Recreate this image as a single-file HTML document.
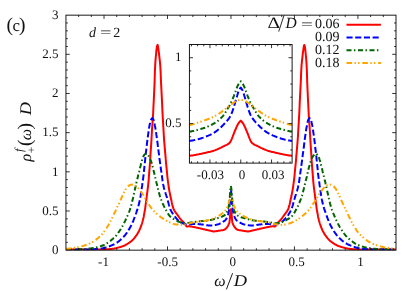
<!DOCTYPE html>
<html><head><meta charset="utf-8"><title>chart</title>
<style>
html,body{margin:0;padding:0;background:#fff;}
body{width:415px;height:291px;overflow:hidden;}
svg{display:block;will-change:transform;}
text{font-family:"Liberation Serif",serif;fill:#111;text-rendering:geometricPrecision;}
.t{font-size:13px;}
.l{font-size:14px;}
.b{font-size:16px;}
.i{font-style:italic;}
</style></head><body>
<svg width="415" height="291" viewBox="0 0 415 291">
<rect x="0" y="0" width="415" height="291" fill="#fff"/>

<clipPath id="cm"><rect x="65.95" y="15.15" width="330.05" height="235.20"/></clipPath>
<g fill="none" stroke-width="2" stroke-linejoin="round" clip-path="url(#cm)">
<path d="M65.9,249.6 L66.3,249.6 L66.7,249.6 L67.1,249.6 L67.4,249.6 L67.8,249.6 L68.2,249.6 L68.6,249.6 L68.9,249.6 L69.3,249.6 L69.7,249.6 L70.1,249.6 L70.4,249.6 L70.8,249.6 L71.2,249.6 L71.6,249.6 L71.9,249.6 L72.3,249.6 L72.7,249.6 L73.1,249.6 L73.4,249.6 L73.8,249.6 L74.2,249.6 L74.6,249.6 L74.9,249.6 L75.3,249.6 L75.7,249.6 L76.1,249.6 L76.4,249.6 L76.8,249.6 L77.2,249.6 L77.6,249.6 L77.9,249.6 L78.3,249.6 L78.7,249.6 L79.1,249.6 L79.4,249.6 L79.8,249.6 L80.2,249.6 L80.6,249.6 L81.0,249.6 L81.3,249.6 L81.7,249.6 L82.1,249.6 L82.5,249.6 L82.8,249.6 L83.2,249.6 L83.6,249.6 L84.0,249.6 L84.3,249.6 L84.7,249.6 L85.1,249.6 L85.5,249.6 L85.8,249.6 L86.2,249.6 L86.6,249.6 L87.0,249.6 L87.3,249.6 L87.7,249.6 L88.1,249.6 L88.5,249.6 L88.8,249.6 L89.2,249.6 L89.6,249.6 L90.0,249.6 L90.3,249.6 L90.7,249.6 L91.1,249.5 L91.5,249.5 L91.8,249.5 L92.2,249.5 L92.6,249.5 L93.0,249.5 L93.3,249.5 L93.7,249.5 L94.1,249.5 L94.5,249.5 L94.8,249.5 L95.2,249.5 L95.6,249.5 L96.0,249.5 L96.3,249.5 L96.7,249.5 L97.1,249.5 L97.5,249.5 L97.9,249.5 L98.2,249.5 L98.6,249.5 L99.0,249.5 L99.4,249.5 L99.7,249.5 L100.1,249.5 L100.5,249.5 L100.9,249.5 L101.2,249.5 L101.6,249.5 L102.0,249.5 L102.4,249.5 L102.7,249.5 L103.1,249.4 L103.5,249.4 L103.9,249.4 L104.2,249.4 L104.6,249.4 L105.0,249.4 L105.4,249.4 L105.7,249.3 L106.1,249.3 L106.5,249.3 L106.9,249.3 L107.2,249.3 L107.6,249.2 L108.0,249.2 L108.4,249.2 L108.7,249.2 L109.1,249.2 L109.5,249.1 L109.9,249.1 L110.2,249.1 L110.6,249.1 L111.0,249.0 L111.4,249.0 L111.7,248.9 L112.1,248.9 L112.5,248.8 L112.9,248.8 L113.2,248.7 L113.6,248.7 L114.0,248.6 L114.4,248.5 L114.8,248.4 L115.1,248.4 L115.5,248.3 L115.9,248.2 L116.3,248.1 L116.6,248.0 L117.0,247.9 L117.4,247.8 L117.8,247.7 L118.1,247.6 L118.5,247.5 L118.9,247.4 L119.3,247.3 L119.6,247.2 L120.0,247.1 L120.4,247.0 L120.8,246.9 L121.1,246.8 L121.5,246.7 L121.9,246.5 L122.3,246.4 L122.6,246.3 L123.0,246.1 L123.4,246.0 L123.8,245.8 L124.1,245.7 L124.5,245.5 L124.9,245.3 L125.3,245.1 L125.6,244.9 L126.0,244.7 L126.4,244.5 L126.8,244.3 L127.1,244.1 L127.5,243.8 L127.9,243.6 L128.3,243.4 L128.6,243.1 L129.0,242.8 L129.4,242.6 L129.8,242.3 L130.1,242.0 L130.5,241.8 L130.9,241.5 L131.3,241.2 L131.7,240.9 L132.0,240.5 L132.4,240.2 L132.8,239.8 L133.2,239.4 L133.5,239.0 L133.9,238.6 L134.3,238.2 L134.7,237.7 L135.0,237.2 L135.4,236.8 L135.8,236.2 L136.2,235.7 L136.5,235.2 L136.9,234.6 L137.3,234.0 L137.7,233.4 L138.0,232.8 L138.4,232.1 L138.8,231.4 L139.2,230.7 L139.5,229.9 L139.9,229.0 L140.3,228.1 L140.7,227.2 L141.0,226.2 L141.4,225.1 L141.8,224.0 L142.2,222.8 L142.5,221.5 L142.9,220.2 L143.3,218.6 L143.7,216.9 L144.0,214.9 L144.4,212.8 L144.8,210.6 L145.2,208.3 L145.5,205.6 L145.9,202.8 L146.3,199.9 L146.7,196.9 L147.0,194.1 L147.4,191.3 L147.8,188.2 L148.2,184.7 L148.6,180.8 L148.9,176.4 L149.3,171.6 L149.7,166.6 L150.1,161.4 L150.4,155.9 L150.8,149.8 L151.2,143.6 L151.6,137.3 L151.9,131.4 L152.3,125.8 L152.7,120.2 L153.1,114.2 L153.4,107.5 L153.8,99.8 L154.2,91.3 L154.6,82.1 L154.9,71.2 L155.3,63.1 L155.7,57.8 L156.1,54.0 L156.4,50.5 L156.8,47.5 L157.2,45.5 L157.6,44.9 L157.9,46.0 L158.3,48.3 L158.7,51.3 L159.1,54.4 L159.4,57.3 L159.8,60.7 L160.2,64.9 L160.6,71.3 L160.9,79.5 L161.3,87.5 L161.7,95.4 L162.1,103.4 L162.4,110.9 L162.8,118.1 L163.2,125.0 L163.6,131.5 L163.9,137.2 L164.3,142.4 L164.7,147.2 L165.1,151.8 L165.5,156.1 L165.8,160.3 L166.2,164.4 L166.6,168.4 L167.0,172.3 L167.3,176.0 L167.7,179.5 L168.1,182.6 L168.5,185.4 L168.8,187.8 L169.2,190.0 L169.6,192.1 L170.0,194.0 L170.3,195.8 L170.7,197.5 L171.1,199.3 L171.5,201.0 L171.8,202.7 L172.2,204.4 L172.6,205.9 L173.0,207.2 L173.3,208.3 L173.7,209.3 L174.1,210.0 L174.5,210.7 L174.8,211.3 L175.2,211.9 L175.6,212.4 L176.0,212.9 L176.3,213.4 L176.7,213.9 L177.1,214.4 L177.5,214.9 L177.8,215.4 L178.2,215.9 L178.6,216.5 L179.0,217.0 L179.3,217.5 L179.7,218.0 L180.1,218.6 L180.5,219.0 L180.8,219.5 L181.2,219.9 L181.6,220.4 L182.0,220.7 L182.4,221.1 L182.7,221.5 L183.1,221.8 L183.5,222.2 L183.9,222.6 L184.2,223.0 L184.6,223.4 L185.0,224.0 L185.4,224.6 L185.7,225.3 L186.1,225.9 L186.5,226.3 L186.9,226.5 L187.2,226.5 L187.6,226.4 L188.0,226.4 L188.4,226.3 L188.7,226.3 L189.1,226.3 L189.5,226.3 L189.9,226.4 L190.2,226.4 L190.6,226.4 L191.0,226.5 L191.4,226.6 L191.7,226.6 L192.1,226.7 L192.5,226.8 L192.9,226.9 L193.2,226.9 L193.6,227.0 L194.0,227.1 L194.4,227.1 L194.7,227.2 L195.1,227.3 L195.5,227.4 L195.9,227.4 L196.2,227.5 L196.6,227.6 L197.0,227.7 L197.4,227.8 L197.7,227.9 L198.1,227.9 L198.5,228.0 L198.9,228.1 L199.3,228.2 L199.6,228.3 L200.0,228.4 L200.4,228.5 L200.8,228.6 L201.1,228.6 L201.5,228.7 L201.9,228.8 L202.3,228.9 L202.6,229.0 L203.0,229.1 L203.4,229.2 L203.8,229.3 L204.1,229.3 L204.5,229.4 L204.9,229.5 L205.3,229.6 L205.6,229.7 L206.0,229.8 L206.4,229.9 L206.8,230.0 L207.1,230.1 L207.5,230.1 L207.9,230.2 L208.3,230.3 L208.6,230.4 L209.0,230.5 L209.4,230.6 L209.8,230.6 L210.1,230.7 L210.5,230.8 L210.9,230.9 L211.3,231.0 L211.6,231.1 L212.0,231.2 L212.4,231.3 L212.8,231.3 L213.1,231.4 L213.5,231.4 L213.9,231.4 L214.3,231.4 L214.6,231.4 L215.0,231.3 L215.4,231.3 L215.8,231.2 L216.2,231.2 L216.5,231.1 L216.9,231.1 L217.3,231.0 L217.7,230.9 L218.0,230.9 L218.4,230.8 L218.8,230.7 L219.2,230.7 L219.5,230.6 L219.9,230.5 L220.3,230.5 L220.7,230.4 L221.0,230.4 L221.4,230.3 L221.8,230.3 L222.2,230.2 L222.5,230.2 L222.9,230.1 L223.3,230.0 L223.5,230.0 L223.7,229.9 L223.9,229.9 L224.1,229.8 L224.2,229.7 L224.4,229.7 L224.6,229.6 L224.8,229.5 L225.0,229.4 L225.2,229.2 L225.4,229.0 L225.6,228.8 L225.8,228.7 L226.0,228.5 L226.2,228.3 L226.4,228.1 L226.6,227.8 L226.8,227.6 L226.9,227.4 L227.1,227.2 L227.3,226.9 L227.5,226.6 L227.7,226.3 L227.9,226.0 L228.1,225.6 L228.3,225.2 L228.5,224.7 L228.7,224.3 L228.9,223.8 L229.1,223.4 L229.3,222.9 L229.5,222.2 L229.6,221.1 L229.8,219.1 L230.0,216.6 L230.2,214.4 L230.4,212.2 L230.6,210.5 L230.8,209.3 L231.2,210.5 L231.4,212.2 L231.6,214.4 L231.8,216.6 L232.0,219.1 L232.2,221.1 L232.3,222.2 L232.5,222.9 L232.7,223.4 L232.9,223.8 L233.1,224.3 L233.3,224.7 L233.5,225.2 L233.7,225.6 L233.9,226.0 L234.1,226.3 L234.3,226.6 L234.5,226.9 L234.7,227.2 L234.9,227.4 L235.0,227.6 L235.2,227.8 L235.4,228.1 L235.6,228.3 L235.8,228.5 L236.0,228.7 L236.2,228.8 L236.4,229.0 L236.6,229.2 L236.8,229.4 L237.0,229.5 L237.2,229.6 L237.4,229.7 L237.6,229.7 L237.7,229.8 L237.9,229.9 L238.1,229.9 L238.3,230.0 L238.5,230.0 L238.9,230.1 L239.3,230.2 L239.6,230.2 L240.0,230.3 L240.4,230.3 L240.8,230.4 L241.1,230.4 L241.5,230.5 L241.9,230.5 L242.3,230.6 L242.6,230.7 L243.0,230.7 L243.4,230.8 L243.8,230.9 L244.1,230.9 L244.5,231.0 L244.9,231.1 L245.3,231.1 L245.6,231.2 L246.0,231.2 L246.4,231.3 L246.8,231.3 L247.2,231.4 L247.5,231.4 L247.9,231.4 L248.3,231.4 L248.7,231.4 L249.0,231.3 L249.4,231.3 L249.8,231.2 L250.2,231.1 L250.5,231.0 L250.9,230.9 L251.3,230.8 L251.7,230.7 L252.0,230.6 L252.4,230.6 L252.8,230.5 L253.2,230.4 L253.5,230.3 L253.9,230.2 L254.3,230.1 L254.7,230.1 L255.0,230.0 L255.4,229.9 L255.8,229.8 L256.2,229.7 L256.5,229.6 L256.9,229.5 L257.3,229.4 L257.7,229.3 L258.0,229.3 L258.4,229.2 L258.8,229.1 L259.2,229.0 L259.5,228.9 L259.9,228.8 L260.3,228.7 L260.7,228.6 L261.0,228.6 L261.4,228.5 L261.8,228.4 L262.2,228.3 L262.5,228.2 L262.9,228.1 L263.3,228.0 L263.7,227.9 L264.1,227.9 L264.4,227.8 L264.8,227.7 L265.2,227.6 L265.6,227.5 L265.9,227.4 L266.3,227.4 L266.7,227.3 L267.1,227.2 L267.4,227.1 L267.8,227.1 L268.2,227.0 L268.6,226.9 L268.9,226.9 L269.3,226.8 L269.7,226.7 L270.1,226.6 L270.4,226.6 L270.8,226.5 L271.2,226.4 L271.6,226.4 L271.9,226.4 L272.3,226.3 L272.7,226.3 L273.1,226.3 L273.4,226.3 L273.8,226.4 L274.2,226.4 L274.6,226.5 L274.9,226.5 L275.3,226.3 L275.7,225.9 L276.1,225.3 L276.4,224.6 L276.8,224.0 L277.2,223.4 L277.6,223.0 L277.9,222.6 L278.3,222.2 L278.7,221.8 L279.1,221.5 L279.4,221.1 L279.8,220.7 L280.2,220.4 L280.6,219.9 L281.0,219.5 L281.3,219.0 L281.7,218.6 L282.1,218.0 L282.5,217.5 L282.8,217.0 L283.2,216.5 L283.6,215.9 L284.0,215.4 L284.3,214.9 L284.7,214.4 L285.1,213.9 L285.5,213.4 L285.8,212.9 L286.2,212.4 L286.6,211.9 L287.0,211.3 L287.3,210.7 L287.7,210.0 L288.1,209.3 L288.5,208.3 L288.8,207.2 L289.2,205.9 L289.6,204.4 L290.0,202.7 L290.3,201.0 L290.7,199.3 L291.1,197.5 L291.5,195.8 L291.8,194.0 L292.2,192.1 L292.6,190.0 L293.0,187.8 L293.3,185.4 L293.7,182.6 L294.1,179.5 L294.5,176.0 L294.8,172.3 L295.2,168.4 L295.6,164.4 L296.0,160.3 L296.3,156.1 L296.7,151.8 L297.1,147.2 L297.5,142.4 L297.9,137.2 L298.2,131.5 L298.6,125.0 L299.0,118.1 L299.4,110.9 L299.7,103.4 L300.1,95.4 L300.5,87.5 L300.9,79.5 L301.2,71.3 L301.6,64.9 L302.0,60.7 L302.4,57.3 L302.7,54.4 L303.1,51.3 L303.5,48.3 L303.9,46.0 L304.2,44.9 L304.6,45.5 L305.0,47.5 L305.4,50.5 L305.7,54.0 L306.1,57.8 L306.5,63.1 L306.9,71.2 L307.2,82.1 L307.6,91.3 L308.0,99.8 L308.4,107.5 L308.7,114.2 L309.1,120.2 L309.5,125.8 L309.9,131.4 L310.2,137.3 L310.6,143.6 L311.0,149.8 L311.4,155.9 L311.7,161.4 L312.1,166.6 L312.5,171.6 L312.9,176.4 L313.2,180.8 L313.6,184.7 L314.0,188.2 L314.4,191.3 L314.8,194.1 L315.1,196.9 L315.5,199.9 L315.9,202.8 L316.3,205.6 L316.6,208.3 L317.0,210.6 L317.4,212.8 L317.8,214.9 L318.1,216.9 L318.5,218.6 L318.9,220.2 L319.3,221.5 L319.6,222.8 L320.0,224.0 L320.4,225.1 L320.8,226.2 L321.1,227.2 L321.5,228.1 L321.9,229.0 L322.3,229.9 L322.6,230.7 L323.0,231.4 L323.4,232.1 L323.8,232.8 L324.1,233.4 L324.5,234.0 L324.9,234.6 L325.3,235.2 L325.6,235.7 L326.0,236.2 L326.4,236.8 L326.8,237.2 L327.1,237.7 L327.5,238.2 L327.9,238.6 L328.3,239.0 L328.6,239.4 L329.0,239.8 L329.4,240.2 L329.8,240.5 L330.1,240.9 L330.5,241.2 L330.9,241.5 L331.3,241.8 L331.7,242.0 L332.0,242.3 L332.4,242.6 L332.8,242.8 L333.2,243.1 L333.5,243.4 L333.9,243.6 L334.3,243.8 L334.7,244.1 L335.0,244.3 L335.4,244.5 L335.8,244.7 L336.2,244.9 L336.5,245.1 L336.9,245.3 L337.3,245.5 L337.7,245.7 L338.0,245.8 L338.4,246.0 L338.8,246.1 L339.2,246.3 L339.5,246.4 L339.9,246.5 L340.3,246.7 L340.7,246.8 L341.0,246.9 L341.4,247.0 L341.8,247.1 L342.2,247.2 L342.5,247.3 L342.9,247.4 L343.3,247.5 L343.7,247.6 L344.0,247.7 L344.4,247.8 L344.8,247.9 L345.2,248.0 L345.5,248.1 L345.9,248.2 L346.3,248.3 L346.7,248.4 L347.0,248.4 L347.4,248.5 L347.8,248.6 L348.2,248.7 L348.6,248.7 L348.9,248.8 L349.3,248.8 L349.7,248.9 L350.1,248.9 L350.4,249.0 L350.8,249.0 L351.2,249.1 L351.6,249.1 L351.9,249.1 L352.3,249.1 L352.7,249.2 L353.1,249.2 L353.4,249.2 L353.8,249.2 L354.2,249.2 L354.6,249.3 L354.9,249.3 L355.3,249.3 L355.7,249.3 L356.1,249.3 L356.4,249.4 L356.8,249.4 L357.2,249.4 L357.6,249.4 L357.9,249.4 L358.3,249.4 L358.7,249.4 L359.1,249.5 L359.4,249.5 L359.8,249.5 L360.2,249.5 L360.6,249.5 L360.9,249.5 L361.3,249.5 L361.7,249.5 L362.1,249.5 L362.4,249.5 L362.8,249.5 L363.2,249.5 L363.6,249.5 L363.9,249.5 L364.3,249.5 L364.7,249.5 L365.1,249.5 L365.5,249.5 L365.8,249.5 L366.2,249.5 L366.6,249.5 L367.0,249.5 L367.3,249.5 L367.7,249.5 L368.1,249.5 L368.5,249.5 L368.8,249.5 L369.2,249.5 L369.6,249.5 L370.0,249.5 L370.3,249.5 L370.7,249.5 L371.1,249.6 L371.5,249.6 L371.8,249.6 L372.2,249.6 L372.6,249.6 L373.0,249.6 L373.3,249.6 L373.7,249.6 L374.1,249.6 L374.5,249.6 L374.8,249.6 L375.2,249.6 L375.6,249.6 L376.0,249.6 L376.3,249.6 L376.7,249.6 L377.1,249.6 L377.5,249.6 L377.8,249.6 L378.2,249.6 L378.6,249.6 L379.0,249.6 L379.3,249.6 L379.7,249.6 L380.1,249.6 L380.5,249.6 L380.8,249.6 L381.2,249.6 L381.6,249.6 L382.0,249.6 L382.4,249.6 L382.7,249.6 L383.1,249.6 L383.5,249.6 L383.9,249.6 L384.2,249.6 L384.6,249.6 L385.0,249.6 L385.4,249.6 L385.7,249.6 L386.1,249.6 L386.5,249.6 L386.9,249.6 L387.2,249.6 L387.6,249.6 L388.0,249.6 L388.4,249.6 L388.7,249.6 L389.1,249.6 L389.5,249.6 L389.9,249.6 L390.2,249.6 L390.6,249.6 L391.0,249.6 L391.4,249.6 L391.7,249.6 L392.1,249.6 L392.5,249.6 L392.9,249.6 L393.2,249.6 L393.6,249.6 L394.0,249.6 L394.4,249.6 L394.7,249.6 L395.1,249.6 L395.5,249.6 L395.9,249.6" stroke="#ff0000"/>
<path d="M65.9,249.6 L66.3,249.6 L66.7,249.6 L67.1,249.6 L67.4,249.6 L67.8,249.6 L68.2,249.6 L68.6,249.6 L68.9,249.6 L69.3,249.6 L69.7,249.6 L70.1,249.6 L70.4,249.6 L70.8,249.6 L71.2,249.6 L71.6,249.6 L71.9,249.6 L72.3,249.6 L72.7,249.6 L73.1,249.6 L73.4,249.6 L73.8,249.6 L74.2,249.6 L74.6,249.6 L74.9,249.6 L75.3,249.6 L75.7,249.6 L76.1,249.6 L76.4,249.6 L76.8,249.5 L77.2,249.5 L77.6,249.5 L77.9,249.5 L78.3,249.5 L78.7,249.5 L79.1,249.5 L79.4,249.5 L79.8,249.5 L80.2,249.5 L80.6,249.5 L81.0,249.5 L81.3,249.5 L81.7,249.5 L82.1,249.5 L82.5,249.5 L82.8,249.5 L83.2,249.5 L83.6,249.5 L84.0,249.5 L84.3,249.5 L84.7,249.5 L85.1,249.4 L85.5,249.4 L85.8,249.4 L86.2,249.4 L86.6,249.4 L87.0,249.4 L87.3,249.4 L87.7,249.4 L88.1,249.4 L88.5,249.4 L88.8,249.4 L89.2,249.4 L89.6,249.4 L90.0,249.4 L90.3,249.3 L90.7,249.3 L91.1,249.3 L91.5,249.3 L91.8,249.3 L92.2,249.3 L92.6,249.3 L93.0,249.3 L93.3,249.2 L93.7,249.2 L94.1,249.2 L94.5,249.2 L94.8,249.2 L95.2,249.1 L95.6,249.1 L96.0,249.1 L96.3,249.1 L96.7,249.1 L97.1,249.0 L97.5,249.0 L97.9,249.0 L98.2,249.0 L98.6,248.9 L99.0,248.9 L99.4,248.9 L99.7,248.8 L100.1,248.8 L100.5,248.7 L100.9,248.7 L101.2,248.6 L101.6,248.6 L102.0,248.5 L102.4,248.4 L102.7,248.3 L103.1,248.3 L103.5,248.2 L103.9,248.1 L104.2,248.0 L104.6,247.9 L105.0,247.8 L105.4,247.7 L105.7,247.6 L106.1,247.4 L106.5,247.3 L106.9,247.2 L107.2,247.1 L107.6,246.9 L108.0,246.8 L108.4,246.7 L108.7,246.5 L109.1,246.4 L109.5,246.2 L109.9,246.1 L110.2,245.9 L110.6,245.8 L111.0,245.6 L111.4,245.5 L111.7,245.3 L112.1,245.1 L112.5,245.0 L112.9,244.8 L113.2,244.6 L113.6,244.5 L114.0,244.3 L114.4,244.1 L114.8,243.9 L115.1,243.7 L115.5,243.5 L115.9,243.3 L116.3,243.1 L116.6,242.8 L117.0,242.6 L117.4,242.3 L117.8,242.1 L118.1,241.8 L118.5,241.5 L118.9,241.2 L119.3,240.9 L119.6,240.6 L120.0,240.3 L120.4,239.9 L120.8,239.6 L121.1,239.2 L121.5,238.9 L121.9,238.5 L122.3,238.2 L122.6,237.8 L123.0,237.4 L123.4,237.0 L123.8,236.6 L124.1,236.2 L124.5,235.8 L124.9,235.4 L125.3,234.9 L125.6,234.4 L126.0,233.9 L126.4,233.4 L126.8,232.9 L127.1,232.3 L127.5,231.8 L127.9,231.2 L128.3,230.6 L128.6,230.0 L129.0,229.4 L129.4,228.7 L129.8,228.1 L130.1,227.4 L130.5,226.7 L130.9,226.0 L131.3,225.3 L131.7,224.5 L132.0,223.7 L132.4,222.9 L132.8,222.0 L133.2,221.1 L133.5,220.1 L133.9,219.2 L134.3,218.2 L134.7,217.2 L135.0,216.1 L135.4,215.1 L135.8,214.0 L136.2,213.0 L136.5,211.9 L136.9,210.8 L137.3,209.7 L137.7,208.5 L138.0,207.3 L138.4,206.0 L138.8,204.6 L139.2,203.1 L139.5,201.5 L139.9,199.7 L140.3,197.6 L140.7,195.4 L141.0,192.9 L141.4,190.4 L141.8,187.8 L142.2,185.2 L142.5,182.6 L142.9,180.0 L143.3,177.1 L143.7,174.1 L144.0,170.8 L144.4,166.9 L144.8,163.0 L145.2,159.3 L145.5,156.0 L145.9,152.7 L146.3,149.5 L146.7,146.4 L147.0,143.2 L147.4,140.0 L147.8,137.0 L148.2,134.2 L148.6,131.5 L148.9,128.9 L149.3,126.6 L149.7,124.6 L150.1,122.9 L150.4,121.4 L150.8,120.2 L151.2,119.4 L151.6,118.8 L151.9,118.3 L152.3,118.1 L152.7,118.3 L153.1,118.9 L153.4,119.6 L153.8,120.6 L154.2,122.0 L154.6,123.8 L154.9,125.7 L155.3,127.7 L155.7,130.0 L156.1,132.4 L156.4,134.9 L156.8,137.7 L157.2,140.6 L157.6,143.6 L157.9,146.5 L158.3,149.4 L158.7,152.3 L159.1,155.2 L159.4,158.1 L159.8,160.9 L160.2,163.6 L160.6,166.4 L160.9,169.1 L161.3,171.7 L161.7,174.4 L162.1,177.1 L162.4,179.8 L162.8,182.3 L163.2,184.5 L163.6,186.2 L163.9,187.8 L164.3,189.2 L164.7,190.6 L165.1,191.8 L165.5,193.0 L165.8,194.1 L166.2,195.3 L166.6,196.4 L167.0,197.7 L167.3,199.0 L167.7,200.3 L168.1,201.7 L168.5,203.1 L168.8,204.5 L169.2,205.8 L169.6,207.0 L170.0,208.1 L170.3,209.2 L170.7,210.0 L171.1,210.8 L171.5,211.5 L171.8,212.2 L172.2,212.8 L172.6,213.4 L173.0,214.0 L173.3,214.5 L173.7,215.1 L174.1,215.6 L174.5,216.1 L174.8,216.5 L175.2,217.0 L175.6,217.4 L176.0,217.9 L176.3,218.4 L176.7,218.8 L177.1,219.2 L177.5,219.7 L177.8,220.1 L178.2,220.4 L178.6,220.8 L179.0,221.1 L179.3,221.4 L179.7,221.7 L180.1,221.9 L180.5,222.1 L180.8,222.3 L181.2,222.5 L181.6,222.7 L182.0,222.9 L182.4,223.1 L182.7,223.2 L183.1,223.4 L183.5,223.5 L183.9,223.6 L184.2,223.8 L184.6,223.9 L185.0,224.0 L185.4,224.1 L185.7,224.3 L186.1,224.4 L186.5,224.4 L186.9,224.5 L187.2,224.5 L187.6,224.5 L188.0,224.5 L188.4,224.5 L188.7,224.4 L189.1,224.4 L189.5,224.4 L189.9,224.3 L190.2,224.3 L190.6,224.3 L191.0,224.2 L191.4,224.2 L191.7,224.1 L192.1,224.1 L192.5,224.0 L192.9,224.0 L193.2,224.0 L193.6,224.0 L194.0,223.9 L194.4,223.9 L194.7,223.9 L195.1,223.9 L195.5,223.9 L195.9,223.9 L196.2,223.9 L196.6,224.0 L197.0,224.0 L197.4,224.0 L197.7,224.0 L198.1,224.1 L198.5,224.1 L198.9,224.2 L199.3,224.2 L199.6,224.3 L200.0,224.3 L200.4,224.3 L200.8,224.4 L201.1,224.4 L201.5,224.5 L201.9,224.5 L202.3,224.6 L202.6,224.6 L203.0,224.6 L203.4,224.7 L203.8,224.8 L204.1,224.8 L204.5,224.9 L204.9,224.9 L205.3,225.0 L205.6,225.1 L206.0,225.1 L206.4,225.2 L206.8,225.2 L207.1,225.3 L207.5,225.3 L207.9,225.4 L208.3,225.4 L208.6,225.4 L209.0,225.5 L209.4,225.5 L209.8,225.5 L210.1,225.5 L210.5,225.5 L210.9,225.5 L211.3,225.5 L211.6,225.4 L212.0,225.4 L212.4,225.4 L212.8,225.3 L213.1,225.3 L213.5,225.2 L213.9,225.2 L214.3,225.1 L214.6,225.1 L215.0,225.0 L215.4,224.9 L215.8,224.9 L216.2,224.8 L216.5,224.7 L216.9,224.6 L217.3,224.6 L217.7,224.5 L218.0,224.4 L218.4,224.2 L218.8,224.1 L219.2,224.0 L219.5,223.8 L219.9,223.6 L220.3,223.4 L220.7,223.2 L221.0,223.0 L221.4,222.8 L221.8,222.6 L222.2,222.4 L222.5,222.2 L222.9,221.9 L223.3,221.7 L223.5,221.5 L223.7,221.4 L223.9,221.3 L224.1,221.1 L224.2,221.0 L224.4,220.9 L224.6,220.8 L224.8,220.6 L225.0,220.5 L225.2,220.3 L225.4,220.1 L225.6,219.9 L225.8,219.6 L226.0,219.3 L226.2,219.0 L226.4,218.7 L226.6,218.3 L226.8,218.0 L226.9,217.6 L227.1,217.1 L227.3,216.7 L227.5,216.2 L227.7,215.6 L227.9,214.9 L228.1,214.2 L228.3,213.4 L228.5,212.5 L228.7,211.6 L228.9,210.7 L229.1,209.7 L229.3,208.6 L229.5,207.4 L229.6,205.9 L229.8,203.7 L230.0,201.0 L230.2,197.9 L230.4,194.7 L230.6,191.7 L230.8,189.8 L231.2,191.7 L231.4,194.7 L231.6,197.9 L231.8,201.0 L232.0,203.7 L232.2,205.9 L232.3,207.4 L232.5,208.6 L232.7,209.7 L232.9,210.7 L233.1,211.6 L233.3,212.5 L233.5,213.4 L233.7,214.2 L233.9,214.9 L234.1,215.6 L234.3,216.2 L234.5,216.7 L234.7,217.1 L234.9,217.6 L235.0,218.0 L235.2,218.3 L235.4,218.7 L235.6,219.0 L235.8,219.3 L236.0,219.6 L236.2,219.9 L236.4,220.1 L236.6,220.3 L236.8,220.5 L237.0,220.6 L237.2,220.8 L237.4,220.9 L237.6,221.0 L237.7,221.1 L237.9,221.3 L238.1,221.4 L238.3,221.5 L238.5,221.7 L238.9,221.9 L239.3,222.2 L239.6,222.4 L240.0,222.6 L240.4,222.8 L240.8,223.0 L241.1,223.2 L241.5,223.4 L241.9,223.6 L242.3,223.8 L242.6,224.0 L243.0,224.1 L243.4,224.2 L243.8,224.4 L244.1,224.5 L244.5,224.6 L244.9,224.6 L245.3,224.7 L245.6,224.8 L246.0,224.9 L246.4,224.9 L246.8,225.0 L247.2,225.1 L247.5,225.1 L247.9,225.2 L248.3,225.2 L248.7,225.3 L249.0,225.3 L249.4,225.4 L249.8,225.4 L250.2,225.4 L250.5,225.5 L250.9,225.5 L251.3,225.5 L251.7,225.5 L252.0,225.5 L252.4,225.5 L252.8,225.5 L253.2,225.4 L253.5,225.4 L253.9,225.4 L254.3,225.3 L254.7,225.3 L255.0,225.2 L255.4,225.2 L255.8,225.1 L256.2,225.1 L256.5,225.0 L256.9,224.9 L257.3,224.9 L257.7,224.8 L258.0,224.8 L258.4,224.7 L258.8,224.6 L259.2,224.6 L259.5,224.6 L259.9,224.5 L260.3,224.5 L260.7,224.4 L261.0,224.4 L261.4,224.3 L261.8,224.3 L262.2,224.3 L262.5,224.2 L262.9,224.2 L263.3,224.1 L263.7,224.1 L264.1,224.0 L264.4,224.0 L264.8,224.0 L265.2,224.0 L265.6,223.9 L265.9,223.9 L266.3,223.9 L266.7,223.9 L267.1,223.9 L267.4,223.9 L267.8,223.9 L268.2,224.0 L268.6,224.0 L268.9,224.0 L269.3,224.0 L269.7,224.1 L270.1,224.1 L270.4,224.2 L270.8,224.2 L271.2,224.3 L271.6,224.3 L271.9,224.3 L272.3,224.4 L272.7,224.4 L273.1,224.4 L273.4,224.5 L273.8,224.5 L274.2,224.5 L274.6,224.5 L274.9,224.5 L275.3,224.4 L275.7,224.4 L276.1,224.3 L276.4,224.1 L276.8,224.0 L277.2,223.9 L277.6,223.8 L277.9,223.6 L278.3,223.5 L278.7,223.4 L279.1,223.2 L279.4,223.1 L279.8,222.9 L280.2,222.7 L280.6,222.5 L281.0,222.3 L281.3,222.1 L281.7,221.9 L282.1,221.7 L282.5,221.4 L282.8,221.1 L283.2,220.8 L283.6,220.4 L284.0,220.1 L284.3,219.7 L284.7,219.2 L285.1,218.8 L285.5,218.4 L285.8,217.9 L286.2,217.4 L286.6,217.0 L287.0,216.5 L287.3,216.1 L287.7,215.6 L288.1,215.1 L288.5,214.5 L288.8,214.0 L289.2,213.4 L289.6,212.8 L290.0,212.2 L290.3,211.5 L290.7,210.8 L291.1,210.0 L291.5,209.2 L291.8,208.1 L292.2,207.0 L292.6,205.8 L293.0,204.5 L293.3,203.1 L293.7,201.7 L294.1,200.3 L294.5,199.0 L294.8,197.7 L295.2,196.4 L295.6,195.3 L296.0,194.1 L296.3,193.0 L296.7,191.8 L297.1,190.6 L297.5,189.2 L297.9,187.8 L298.2,186.2 L298.6,184.5 L299.0,182.3 L299.4,179.8 L299.7,177.1 L300.1,174.4 L300.5,171.7 L300.9,169.1 L301.2,166.4 L301.6,163.6 L302.0,160.9 L302.4,158.1 L302.7,155.2 L303.1,152.3 L303.5,149.4 L303.9,146.5 L304.2,143.6 L304.6,140.6 L305.0,137.7 L305.4,134.9 L305.7,132.4 L306.1,130.0 L306.5,127.7 L306.9,125.7 L307.2,123.8 L307.6,122.0 L308.0,120.6 L308.4,119.6 L308.7,118.9 L309.1,118.3 L309.5,118.1 L309.9,118.3 L310.2,118.8 L310.6,119.4 L311.0,120.2 L311.4,121.4 L311.7,122.9 L312.1,124.6 L312.5,126.6 L312.9,128.9 L313.2,131.5 L313.6,134.2 L314.0,137.0 L314.4,140.0 L314.8,143.2 L315.1,146.4 L315.5,149.5 L315.9,152.7 L316.3,156.0 L316.6,159.3 L317.0,163.0 L317.4,166.9 L317.8,170.8 L318.1,174.1 L318.5,177.1 L318.9,180.0 L319.3,182.6 L319.6,185.2 L320.0,187.8 L320.4,190.4 L320.8,192.9 L321.1,195.4 L321.5,197.6 L321.9,199.7 L322.3,201.5 L322.6,203.1 L323.0,204.6 L323.4,206.0 L323.8,207.3 L324.1,208.5 L324.5,209.7 L324.9,210.8 L325.3,211.9 L325.6,213.0 L326.0,214.0 L326.4,215.1 L326.8,216.1 L327.1,217.2 L327.5,218.2 L327.9,219.2 L328.3,220.1 L328.6,221.1 L329.0,222.0 L329.4,222.9 L329.8,223.7 L330.1,224.5 L330.5,225.3 L330.9,226.0 L331.3,226.7 L331.7,227.4 L332.0,228.1 L332.4,228.7 L332.8,229.4 L333.2,230.0 L333.5,230.6 L333.9,231.2 L334.3,231.8 L334.7,232.3 L335.0,232.9 L335.4,233.4 L335.8,233.9 L336.2,234.4 L336.5,234.9 L336.9,235.4 L337.3,235.8 L337.7,236.2 L338.0,236.6 L338.4,237.0 L338.8,237.4 L339.2,237.8 L339.5,238.2 L339.9,238.5 L340.3,238.9 L340.7,239.2 L341.0,239.6 L341.4,239.9 L341.8,240.3 L342.2,240.6 L342.5,240.9 L342.9,241.2 L343.3,241.5 L343.7,241.8 L344.0,242.1 L344.4,242.3 L344.8,242.6 L345.2,242.8 L345.5,243.1 L345.9,243.3 L346.3,243.5 L346.7,243.7 L347.0,243.9 L347.4,244.1 L347.8,244.3 L348.2,244.5 L348.6,244.6 L348.9,244.8 L349.3,245.0 L349.7,245.1 L350.1,245.3 L350.4,245.5 L350.8,245.6 L351.2,245.8 L351.6,245.9 L351.9,246.1 L352.3,246.2 L352.7,246.4 L353.1,246.5 L353.4,246.7 L353.8,246.8 L354.2,246.9 L354.6,247.1 L354.9,247.2 L355.3,247.3 L355.7,247.4 L356.1,247.6 L356.4,247.7 L356.8,247.8 L357.2,247.9 L357.6,248.0 L357.9,248.1 L358.3,248.2 L358.7,248.3 L359.1,248.3 L359.4,248.4 L359.8,248.5 L360.2,248.6 L360.6,248.6 L360.9,248.7 L361.3,248.7 L361.7,248.8 L362.1,248.8 L362.4,248.9 L362.8,248.9 L363.2,248.9 L363.6,249.0 L363.9,249.0 L364.3,249.0 L364.7,249.0 L365.1,249.1 L365.5,249.1 L365.8,249.1 L366.2,249.1 L366.6,249.1 L367.0,249.2 L367.3,249.2 L367.7,249.2 L368.1,249.2 L368.5,249.2 L368.8,249.3 L369.2,249.3 L369.6,249.3 L370.0,249.3 L370.3,249.3 L370.7,249.3 L371.1,249.3 L371.5,249.3 L371.8,249.4 L372.2,249.4 L372.6,249.4 L373.0,249.4 L373.3,249.4 L373.7,249.4 L374.1,249.4 L374.5,249.4 L374.8,249.4 L375.2,249.4 L375.6,249.4 L376.0,249.4 L376.3,249.4 L376.7,249.4 L377.1,249.5 L377.5,249.5 L377.8,249.5 L378.2,249.5 L378.6,249.5 L379.0,249.5 L379.3,249.5 L379.7,249.5 L380.1,249.5 L380.5,249.5 L380.8,249.5 L381.2,249.5 L381.6,249.5 L382.0,249.5 L382.4,249.5 L382.7,249.5 L383.1,249.5 L383.5,249.5 L383.9,249.5 L384.2,249.5 L384.6,249.5 L385.0,249.5 L385.4,249.6 L385.7,249.6 L386.1,249.6 L386.5,249.6 L386.9,249.6 L387.2,249.6 L387.6,249.6 L388.0,249.6 L388.4,249.6 L388.7,249.6 L389.1,249.6 L389.5,249.6 L389.9,249.6 L390.2,249.6 L390.6,249.6 L391.0,249.6 L391.4,249.6 L391.7,249.6 L392.1,249.6 L392.5,249.6 L392.9,249.6 L393.2,249.6 L393.6,249.6 L394.0,249.6 L394.4,249.6 L394.7,249.6 L395.1,249.6 L395.5,249.6 L395.9,249.6" stroke="#0000ff" stroke-dasharray="6.1,2.6"/>
<path d="M65.9,249.5 L66.3,249.5 L66.7,249.5 L67.1,249.5 L67.4,249.5 L67.8,249.5 L68.2,249.5 L68.6,249.5 L68.9,249.5 L69.3,249.5 L69.7,249.5 L70.1,249.5 L70.4,249.5 L70.8,249.5 L71.2,249.4 L71.6,249.4 L71.9,249.4 L72.3,249.4 L72.7,249.4 L73.1,249.4 L73.4,249.4 L73.8,249.4 L74.2,249.4 L74.6,249.4 L74.9,249.4 L75.3,249.3 L75.7,249.3 L76.1,249.3 L76.4,249.3 L76.8,249.3 L77.2,249.3 L77.6,249.3 L77.9,249.3 L78.3,249.3 L78.7,249.2 L79.1,249.2 L79.4,249.2 L79.8,249.2 L80.2,249.2 L80.6,249.2 L81.0,249.2 L81.3,249.1 L81.7,249.1 L82.1,249.1 L82.5,249.1 L82.8,249.1 L83.2,249.1 L83.6,249.0 L84.0,249.0 L84.3,249.0 L84.7,249.0 L85.1,248.9 L85.5,248.9 L85.8,248.9 L86.2,248.9 L86.6,248.8 L87.0,248.8 L87.3,248.8 L87.7,248.7 L88.1,248.7 L88.5,248.7 L88.8,248.6 L89.2,248.6 L89.6,248.5 L90.0,248.5 L90.3,248.5 L90.7,248.4 L91.1,248.4 L91.5,248.3 L91.8,248.3 L92.2,248.2 L92.6,248.1 L93.0,248.1 L93.3,248.0 L93.7,247.9 L94.1,247.9 L94.5,247.8 L94.8,247.7 L95.2,247.6 L95.6,247.6 L96.0,247.5 L96.3,247.4 L96.7,247.3 L97.1,247.2 L97.5,247.1 L97.9,247.0 L98.2,246.9 L98.6,246.8 L99.0,246.7 L99.4,246.6 L99.7,246.4 L100.1,246.3 L100.5,246.2 L100.9,246.1 L101.2,246.0 L101.6,245.8 L102.0,245.7 L102.4,245.6 L102.7,245.4 L103.1,245.3 L103.5,245.1 L103.9,245.0 L104.2,244.8 L104.6,244.6 L105.0,244.4 L105.4,244.2 L105.7,244.0 L106.1,243.8 L106.5,243.6 L106.9,243.3 L107.2,243.1 L107.6,242.8 L108.0,242.6 L108.4,242.3 L108.7,242.1 L109.1,241.8 L109.5,241.5 L109.9,241.2 L110.2,241.0 L110.6,240.7 L111.0,240.4 L111.4,240.1 L111.7,239.8 L112.1,239.4 L112.5,239.1 L112.9,238.8 L113.2,238.5 L113.6,238.1 L114.0,237.8 L114.4,237.4 L114.8,237.1 L115.1,236.7 L115.5,236.3 L115.9,235.9 L116.3,235.4 L116.6,234.9 L117.0,234.5 L117.4,234.0 L117.8,233.5 L118.1,233.0 L118.5,232.4 L118.9,231.9 L119.3,231.3 L119.6,230.8 L120.0,230.2 L120.4,229.6 L120.8,229.0 L121.1,228.4 L121.5,227.8 L121.9,227.2 L122.3,226.5 L122.6,225.9 L123.0,225.2 L123.4,224.5 L123.8,223.7 L124.1,223.0 L124.5,222.2 L124.9,221.4 L125.3,220.6 L125.6,219.8 L126.0,219.0 L126.4,218.2 L126.8,217.3 L127.1,216.5 L127.5,215.7 L127.9,214.8 L128.3,213.9 L128.6,213.0 L129.0,212.1 L129.4,211.1 L129.8,210.1 L130.1,209.0 L130.5,207.8 L130.9,206.6 L131.3,205.2 L131.7,203.7 L132.0,202.2 L132.4,200.6 L132.8,198.9 L133.2,197.3 L133.5,195.7 L133.9,194.0 L134.3,192.3 L134.7,190.6 L135.0,188.9 L135.4,187.2 L135.8,185.5 L136.2,183.9 L136.5,182.3 L136.9,180.7 L137.3,179.2 L137.7,177.6 L138.0,176.1 L138.4,174.5 L138.8,173.0 L139.2,171.4 L139.5,169.9 L139.9,168.3 L140.3,166.8 L140.7,165.4 L141.0,163.8 L141.4,162.3 L141.8,160.9 L142.2,159.7 L142.5,158.6 L142.9,157.6 L143.3,156.6 L143.7,155.8 L144.0,155.2 L144.4,154.8 L144.8,154.4 L145.2,154.2 L145.5,153.9 L145.9,153.8 L146.3,153.8 L146.7,154.0 L147.0,154.3 L147.4,154.6 L147.8,155.0 L148.2,155.4 L148.6,155.9 L148.9,156.4 L149.3,157.1 L149.7,157.8 L150.1,158.5 L150.4,159.5 L150.8,160.5 L151.2,161.6 L151.6,162.8 L151.9,164.0 L152.3,165.4 L152.7,166.8 L153.1,168.2 L153.4,169.8 L153.8,171.5 L154.2,173.1 L154.6,174.8 L154.9,176.3 L155.3,177.9 L155.7,179.4 L156.1,180.9 L156.4,182.4 L156.8,183.9 L157.2,185.4 L157.6,186.9 L157.9,188.4 L158.3,190.0 L158.7,191.5 L159.1,193.0 L159.4,194.4 L159.8,195.7 L160.2,196.9 L160.6,198.0 L160.9,199.0 L161.3,200.0 L161.7,201.0 L162.1,201.9 L162.4,202.8 L162.8,203.7 L163.2,204.5 L163.6,205.3 L163.9,206.1 L164.3,206.9 L164.7,207.6 L165.1,208.3 L165.5,209.1 L165.8,209.8 L166.2,210.5 L166.6,211.2 L167.0,211.9 L167.3,212.6 L167.7,213.2 L168.1,213.8 L168.5,214.4 L168.8,214.9 L169.2,215.4 L169.6,215.9 L170.0,216.3 L170.3,216.6 L170.7,216.9 L171.1,217.2 L171.5,217.5 L171.8,217.8 L172.2,218.1 L172.6,218.3 L173.0,218.5 L173.3,218.8 L173.7,219.0 L174.1,219.2 L174.5,219.4 L174.8,219.6 L175.2,219.8 L175.6,220.1 L176.0,220.3 L176.3,220.5 L176.7,220.7 L177.1,220.9 L177.5,221.1 L177.8,221.3 L178.2,221.5 L178.6,221.6 L179.0,221.8 L179.3,221.9 L179.7,222.0 L180.1,222.1 L180.5,222.3 L180.8,222.4 L181.2,222.5 L181.6,222.6 L182.0,222.7 L182.4,222.8 L182.7,222.9 L183.1,222.9 L183.5,223.0 L183.9,223.1 L184.2,223.1 L184.6,223.2 L185.0,223.2 L185.4,223.2 L185.7,223.2 L186.1,223.2 L186.5,223.2 L186.9,223.1 L187.2,223.1 L187.6,223.0 L188.0,223.0 L188.4,222.9 L188.7,222.9 L189.1,222.8 L189.5,222.7 L189.9,222.7 L190.2,222.6 L190.6,222.5 L191.0,222.5 L191.4,222.4 L191.7,222.4 L192.1,222.3 L192.5,222.3 L192.9,222.2 L193.2,222.2 L193.6,222.1 L194.0,222.1 L194.4,222.0 L194.7,221.9 L195.1,221.9 L195.5,221.8 L195.9,221.8 L196.2,221.7 L196.6,221.7 L197.0,221.6 L197.4,221.6 L197.7,221.5 L198.1,221.5 L198.5,221.4 L198.9,221.4 L199.3,221.4 L199.6,221.3 L200.0,221.3 L200.4,221.2 L200.8,221.2 L201.1,221.2 L201.5,221.1 L201.9,221.1 L202.3,221.1 L202.6,221.0 L203.0,221.0 L203.4,221.0 L203.8,220.9 L204.1,220.9 L204.5,220.9 L204.9,220.8 L205.3,220.8 L205.6,220.8 L206.0,220.7 L206.4,220.7 L206.8,220.6 L207.1,220.6 L207.5,220.5 L207.9,220.5 L208.3,220.4 L208.6,220.4 L209.0,220.3 L209.4,220.3 L209.8,220.2 L210.1,220.1 L210.5,220.1 L210.9,220.0 L211.3,219.9 L211.6,219.8 L212.0,219.7 L212.4,219.6 L212.8,219.5 L213.1,219.4 L213.5,219.3 L213.9,219.2 L214.3,219.1 L214.6,219.0 L215.0,218.9 L215.4,218.8 L215.8,218.7 L216.2,218.6 L216.5,218.4 L216.9,218.3 L217.3,218.2 L217.7,218.1 L218.0,218.0 L218.4,217.9 L218.8,217.8 L219.2,217.7 L219.5,217.6 L219.9,217.5 L220.3,217.3 L220.7,217.2 L221.0,217.1 L221.4,216.9 L221.8,216.8 L222.2,216.6 L222.5,216.4 L222.9,216.2 L223.3,216.0 L223.5,215.9 L223.7,215.8 L223.9,215.7 L224.1,215.6 L224.2,215.5 L224.4,215.4 L224.6,215.2 L224.8,215.1 L225.0,214.9 L225.2,214.7 L225.4,214.5 L225.6,214.3 L225.8,214.0 L226.0,213.7 L226.2,213.4 L226.4,213.1 L226.6,212.8 L226.8,212.5 L226.9,212.1 L227.1,211.6 L227.3,211.2 L227.5,210.7 L227.7,210.1 L227.9,209.5 L228.1,208.8 L228.3,208.0 L228.5,207.1 L228.7,206.2 L228.9,204.9 L229.1,203.5 L229.3,202.0 L229.5,200.4 L229.6,198.6 L229.8,196.7 L230.0,194.4 L230.2,191.9 L230.4,189.3 L230.6,187.4 L230.8,186.0 L231.2,187.4 L231.4,189.3 L231.6,191.9 L231.8,194.4 L232.0,196.7 L232.2,198.6 L232.3,200.4 L232.5,202.0 L232.7,203.5 L232.9,204.9 L233.1,206.2 L233.3,207.1 L233.5,208.0 L233.7,208.8 L233.9,209.5 L234.1,210.1 L234.3,210.7 L234.5,211.2 L234.7,211.6 L234.9,212.1 L235.0,212.5 L235.2,212.8 L235.4,213.1 L235.6,213.4 L235.8,213.7 L236.0,214.0 L236.2,214.3 L236.4,214.5 L236.6,214.7 L236.8,214.9 L237.0,215.1 L237.2,215.2 L237.4,215.4 L237.6,215.5 L237.7,215.6 L237.9,215.7 L238.1,215.8 L238.3,215.9 L238.5,216.0 L238.9,216.2 L239.3,216.4 L239.6,216.6 L240.0,216.8 L240.4,216.9 L240.8,217.1 L241.1,217.2 L241.5,217.3 L241.9,217.5 L242.3,217.6 L242.6,217.7 L243.0,217.8 L243.4,217.9 L243.8,218.0 L244.1,218.1 L244.5,218.2 L244.9,218.3 L245.3,218.4 L245.6,218.6 L246.0,218.7 L246.4,218.8 L246.8,218.9 L247.2,219.0 L247.5,219.1 L247.9,219.2 L248.3,219.3 L248.7,219.4 L249.0,219.5 L249.4,219.6 L249.8,219.7 L250.2,219.8 L250.5,219.9 L250.9,220.0 L251.3,220.1 L251.7,220.1 L252.0,220.2 L252.4,220.3 L252.8,220.3 L253.2,220.4 L253.5,220.4 L253.9,220.5 L254.3,220.5 L254.7,220.6 L255.0,220.6 L255.4,220.7 L255.8,220.7 L256.2,220.8 L256.5,220.8 L256.9,220.8 L257.3,220.9 L257.7,220.9 L258.0,220.9 L258.4,221.0 L258.8,221.0 L259.2,221.0 L259.5,221.1 L259.9,221.1 L260.3,221.1 L260.7,221.2 L261.0,221.2 L261.4,221.2 L261.8,221.3 L262.2,221.3 L262.5,221.4 L262.9,221.4 L263.3,221.4 L263.7,221.5 L264.1,221.5 L264.4,221.6 L264.8,221.6 L265.2,221.7 L265.6,221.7 L265.9,221.8 L266.3,221.8 L266.7,221.9 L267.1,221.9 L267.4,222.0 L267.8,222.1 L268.2,222.1 L268.6,222.2 L268.9,222.2 L269.3,222.3 L269.7,222.3 L270.1,222.4 L270.4,222.4 L270.8,222.5 L271.2,222.5 L271.6,222.6 L271.9,222.7 L272.3,222.7 L272.7,222.8 L273.1,222.9 L273.4,222.9 L273.8,223.0 L274.2,223.0 L274.6,223.1 L274.9,223.1 L275.3,223.2 L275.7,223.2 L276.1,223.2 L276.4,223.2 L276.8,223.2 L277.2,223.2 L277.6,223.1 L277.9,223.1 L278.3,223.0 L278.7,222.9 L279.1,222.9 L279.4,222.8 L279.8,222.7 L280.2,222.6 L280.6,222.5 L281.0,222.4 L281.3,222.3 L281.7,222.1 L282.1,222.0 L282.5,221.9 L282.8,221.8 L283.2,221.6 L283.6,221.5 L284.0,221.3 L284.3,221.1 L284.7,220.9 L285.1,220.7 L285.5,220.5 L285.8,220.3 L286.2,220.1 L286.6,219.8 L287.0,219.6 L287.3,219.4 L287.7,219.2 L288.1,219.0 L288.5,218.8 L288.8,218.5 L289.2,218.3 L289.6,218.1 L290.0,217.8 L290.3,217.5 L290.7,217.2 L291.1,216.9 L291.5,216.6 L291.8,216.3 L292.2,215.9 L292.6,215.4 L293.0,214.9 L293.3,214.4 L293.7,213.8 L294.1,213.2 L294.5,212.6 L294.8,211.9 L295.2,211.2 L295.6,210.5 L296.0,209.8 L296.3,209.1 L296.7,208.3 L297.1,207.6 L297.5,206.9 L297.9,206.1 L298.2,205.3 L298.6,204.5 L299.0,203.7 L299.4,202.8 L299.7,201.9 L300.1,201.0 L300.5,200.0 L300.9,199.0 L301.2,198.0 L301.6,196.9 L302.0,195.7 L302.4,194.4 L302.7,193.0 L303.1,191.5 L303.5,190.0 L303.9,188.4 L304.2,186.9 L304.6,185.4 L305.0,183.9 L305.4,182.4 L305.7,180.9 L306.1,179.4 L306.5,177.9 L306.9,176.3 L307.2,174.8 L307.6,173.1 L308.0,171.5 L308.4,169.8 L308.7,168.2 L309.1,166.8 L309.5,165.4 L309.9,164.0 L310.2,162.8 L310.6,161.6 L311.0,160.5 L311.4,159.5 L311.7,158.5 L312.1,157.8 L312.5,157.1 L312.9,156.4 L313.2,155.9 L313.6,155.4 L314.0,155.0 L314.4,154.6 L314.8,154.3 L315.1,154.0 L315.5,153.8 L315.9,153.8 L316.3,153.9 L316.6,154.2 L317.0,154.4 L317.4,154.8 L317.8,155.2 L318.1,155.8 L318.5,156.6 L318.9,157.6 L319.3,158.6 L319.6,159.7 L320.0,160.9 L320.4,162.3 L320.8,163.8 L321.1,165.4 L321.5,166.8 L321.9,168.3 L322.3,169.9 L322.6,171.4 L323.0,173.0 L323.4,174.5 L323.8,176.1 L324.1,177.6 L324.5,179.2 L324.9,180.7 L325.3,182.3 L325.6,183.9 L326.0,185.5 L326.4,187.2 L326.8,188.9 L327.1,190.6 L327.5,192.3 L327.9,194.0 L328.3,195.7 L328.6,197.3 L329.0,198.9 L329.4,200.6 L329.8,202.2 L330.1,203.7 L330.5,205.2 L330.9,206.6 L331.3,207.8 L331.7,209.0 L332.0,210.1 L332.4,211.1 L332.8,212.1 L333.2,213.0 L333.5,213.9 L333.9,214.8 L334.3,215.7 L334.7,216.5 L335.0,217.3 L335.4,218.2 L335.8,219.0 L336.2,219.8 L336.5,220.6 L336.9,221.4 L337.3,222.2 L337.7,223.0 L338.0,223.7 L338.4,224.5 L338.8,225.2 L339.2,225.9 L339.5,226.5 L339.9,227.2 L340.3,227.8 L340.7,228.4 L341.0,229.0 L341.4,229.6 L341.8,230.2 L342.2,230.8 L342.5,231.3 L342.9,231.9 L343.3,232.4 L343.7,233.0 L344.0,233.5 L344.4,234.0 L344.8,234.5 L345.2,234.9 L345.5,235.4 L345.9,235.9 L346.3,236.3 L346.7,236.7 L347.0,237.1 L347.4,237.4 L347.8,237.8 L348.2,238.1 L348.6,238.5 L348.9,238.8 L349.3,239.1 L349.7,239.4 L350.1,239.8 L350.4,240.1 L350.8,240.4 L351.2,240.7 L351.6,241.0 L351.9,241.2 L352.3,241.5 L352.7,241.8 L353.1,242.1 L353.4,242.3 L353.8,242.6 L354.2,242.8 L354.6,243.1 L354.9,243.3 L355.3,243.6 L355.7,243.8 L356.1,244.0 L356.4,244.2 L356.8,244.4 L357.2,244.6 L357.6,244.8 L357.9,245.0 L358.3,245.1 L358.7,245.3 L359.1,245.4 L359.4,245.6 L359.8,245.7 L360.2,245.8 L360.6,246.0 L360.9,246.1 L361.3,246.2 L361.7,246.3 L362.1,246.4 L362.4,246.6 L362.8,246.7 L363.2,246.8 L363.6,246.9 L363.9,247.0 L364.3,247.1 L364.7,247.2 L365.1,247.3 L365.5,247.4 L365.8,247.5 L366.2,247.6 L366.6,247.6 L367.0,247.7 L367.3,247.8 L367.7,247.9 L368.1,247.9 L368.5,248.0 L368.8,248.1 L369.2,248.1 L369.6,248.2 L370.0,248.3 L370.3,248.3 L370.7,248.4 L371.1,248.4 L371.5,248.5 L371.8,248.5 L372.2,248.5 L372.6,248.6 L373.0,248.6 L373.3,248.7 L373.7,248.7 L374.1,248.7 L374.5,248.8 L374.8,248.8 L375.2,248.8 L375.6,248.9 L376.0,248.9 L376.3,248.9 L376.7,248.9 L377.1,249.0 L377.5,249.0 L377.8,249.0 L378.2,249.0 L378.6,249.1 L379.0,249.1 L379.3,249.1 L379.7,249.1 L380.1,249.1 L380.5,249.1 L380.8,249.2 L381.2,249.2 L381.6,249.2 L382.0,249.2 L382.4,249.2 L382.7,249.2 L383.1,249.2 L383.5,249.3 L383.9,249.3 L384.2,249.3 L384.6,249.3 L385.0,249.3 L385.4,249.3 L385.7,249.3 L386.1,249.3 L386.5,249.3 L386.9,249.4 L387.2,249.4 L387.6,249.4 L388.0,249.4 L388.4,249.4 L388.7,249.4 L389.1,249.4 L389.5,249.4 L389.9,249.4 L390.2,249.4 L390.6,249.4 L391.0,249.5 L391.4,249.5 L391.7,249.5 L392.1,249.5 L392.5,249.5 L392.9,249.5 L393.2,249.5 L393.6,249.5 L394.0,249.5 L394.4,249.5 L394.7,249.5 L395.1,249.5 L395.5,249.5 L395.9,249.5" stroke="#006400" stroke-dasharray="5,2.4,1.5,2.6"/>
<path d="M65.9,248.8 L66.3,248.8 L66.7,248.8 L67.1,248.7 L67.4,248.7 L67.8,248.7 L68.2,248.7 L68.6,248.6 L68.9,248.6 L69.3,248.6 L69.7,248.5 L70.1,248.5 L70.4,248.4 L70.8,248.4 L71.2,248.3 L71.6,248.3 L71.9,248.2 L72.3,248.2 L72.7,248.1 L73.1,248.1 L73.4,248.0 L73.8,247.9 L74.2,247.9 L74.6,247.8 L74.9,247.8 L75.3,247.7 L75.7,247.6 L76.1,247.6 L76.4,247.5 L76.8,247.4 L77.2,247.4 L77.6,247.3 L77.9,247.2 L78.3,247.1 L78.7,247.1 L79.1,247.0 L79.4,246.9 L79.8,246.8 L80.2,246.7 L80.6,246.6 L81.0,246.5 L81.3,246.4 L81.7,246.3 L82.1,246.2 L82.5,246.1 L82.8,246.0 L83.2,245.9 L83.6,245.8 L84.0,245.7 L84.3,245.6 L84.7,245.4 L85.1,245.3 L85.5,245.2 L85.8,245.0 L86.2,244.9 L86.6,244.8 L87.0,244.6 L87.3,244.5 L87.7,244.3 L88.1,244.2 L88.5,244.0 L88.8,243.9 L89.2,243.7 L89.6,243.5 L90.0,243.4 L90.3,243.2 L90.7,243.0 L91.1,242.8 L91.5,242.6 L91.8,242.4 L92.2,242.2 L92.6,242.0 L93.0,241.8 L93.3,241.5 L93.7,241.3 L94.1,241.1 L94.5,240.8 L94.8,240.5 L95.2,240.3 L95.6,240.0 L96.0,239.7 L96.3,239.4 L96.7,239.1 L97.1,238.8 L97.5,238.5 L97.9,238.2 L98.2,237.9 L98.6,237.5 L99.0,237.2 L99.4,236.9 L99.7,236.5 L100.1,236.2 L100.5,235.8 L100.9,235.4 L101.2,235.1 L101.6,234.7 L102.0,234.3 L102.4,233.9 L102.7,233.5 L103.1,233.1 L103.5,232.6 L103.9,232.1 L104.2,231.6 L104.6,231.1 L105.0,230.6 L105.4,230.0 L105.7,229.5 L106.1,228.9 L106.5,228.3 L106.9,227.7 L107.2,227.1 L107.6,226.4 L108.0,225.8 L108.4,225.2 L108.7,224.5 L109.1,223.9 L109.5,223.2 L109.9,222.6 L110.2,221.9 L110.6,221.1 L111.0,220.4 L111.4,219.7 L111.7,218.9 L112.1,218.1 L112.5,217.3 L112.9,216.5 L113.2,215.7 L113.6,214.9 L114.0,214.1 L114.4,213.3 L114.8,212.5 L115.1,211.7 L115.5,210.9 L115.9,210.1 L116.3,209.3 L116.6,208.4 L117.0,207.6 L117.4,206.8 L117.8,206.0 L118.1,205.3 L118.5,204.5 L118.9,203.8 L119.3,203.0 L119.6,202.2 L120.0,201.4 L120.4,200.5 L120.8,199.7 L121.1,198.8 L121.5,197.9 L121.9,197.0 L122.3,196.2 L122.6,195.3 L123.0,194.5 L123.4,193.7 L123.8,193.0 L124.1,192.2 L124.5,191.5 L124.9,190.9 L125.3,190.2 L125.6,189.5 L126.0,188.9 L126.4,188.3 L126.8,187.8 L127.1,187.4 L127.5,186.9 L127.9,186.6 L128.3,186.2 L128.6,185.9 L129.0,185.6 L129.4,185.3 L129.8,185.2 L130.1,185.0 L130.5,184.9 L130.9,184.7 L131.3,184.7 L131.7,184.6 L132.0,184.6 L132.4,184.6 L132.8,184.7 L133.2,184.7 L133.5,184.8 L133.9,184.9 L134.3,185.0 L134.7,185.1 L135.0,185.3 L135.4,185.6 L135.8,185.8 L136.2,186.2 L136.5,186.5 L136.9,186.8 L137.3,187.2 L137.7,187.5 L138.0,187.9 L138.4,188.4 L138.8,188.8 L139.2,189.3 L139.5,189.8 L139.9,190.3 L140.3,190.8 L140.7,191.3 L141.0,191.8 L141.4,192.3 L141.8,192.8 L142.2,193.4 L142.5,193.9 L142.9,194.5 L143.3,195.1 L143.7,195.8 L144.0,196.4 L144.4,197.1 L144.8,197.8 L145.2,198.4 L145.5,199.1 L145.9,199.7 L146.3,200.3 L146.7,200.9 L147.0,201.4 L147.4,202.0 L147.8,202.6 L148.2,203.2 L148.6,203.7 L148.9,204.3 L149.3,205.0 L149.7,205.6 L150.1,206.3 L150.4,206.9 L150.8,207.4 L151.2,207.9 L151.6,208.4 L151.9,208.8 L152.3,209.3 L152.7,209.7 L153.1,210.1 L153.4,210.5 L153.8,210.9 L154.2,211.3 L154.6,211.7 L154.9,212.1 L155.3,212.4 L155.7,212.8 L156.1,213.1 L156.4,213.5 L156.8,213.8 L157.2,214.1 L157.6,214.5 L157.9,214.8 L158.3,215.1 L158.7,215.4 L159.1,215.7 L159.4,216.0 L159.8,216.3 L160.2,216.6 L160.6,216.9 L160.9,217.2 L161.3,217.5 L161.7,217.7 L162.1,218.0 L162.4,218.3 L162.8,218.5 L163.2,218.8 L163.6,219.0 L163.9,219.3 L164.3,219.5 L164.7,219.7 L165.1,220.0 L165.5,220.2 L165.8,220.4 L166.2,220.6 L166.6,220.8 L167.0,221.0 L167.3,221.2 L167.7,221.4 L168.1,221.6 L168.5,221.8 L168.8,222.0 L169.2,222.2 L169.6,222.4 L170.0,222.5 L170.3,222.7 L170.7,222.8 L171.1,223.0 L171.5,223.1 L171.8,223.3 L172.2,223.4 L172.6,223.5 L173.0,223.7 L173.3,223.8 L173.7,223.9 L174.1,224.0 L174.5,224.1 L174.8,224.2 L175.2,224.3 L175.6,224.4 L176.0,224.4 L176.3,224.5 L176.7,224.5 L177.1,224.5 L177.5,224.6 L177.8,224.6 L178.2,224.6 L178.6,224.7 L179.0,224.7 L179.3,224.7 L179.7,224.7 L180.1,224.8 L180.5,224.8 L180.8,224.8 L181.2,224.8 L181.6,224.8 L182.0,224.8 L182.4,224.8 L182.7,224.8 L183.1,224.7 L183.5,224.7 L183.9,224.6 L184.2,224.6 L184.6,224.5 L185.0,224.4 L185.4,224.4 L185.7,224.3 L186.1,224.2 L186.5,224.2 L186.9,224.1 L187.2,224.0 L187.6,223.9 L188.0,223.8 L188.4,223.7 L188.7,223.6 L189.1,223.5 L189.5,223.4 L189.9,223.3 L190.2,223.2 L190.6,223.0 L191.0,222.9 L191.4,222.8 L191.7,222.7 L192.1,222.6 L192.5,222.5 L192.9,222.5 L193.2,222.4 L193.6,222.3 L194.0,222.2 L194.4,222.2 L194.7,222.1 L195.1,222.0 L195.5,222.0 L195.9,221.9 L196.2,221.9 L196.6,221.8 L197.0,221.7 L197.4,221.7 L197.7,221.6 L198.1,221.6 L198.5,221.5 L198.9,221.5 L199.3,221.4 L199.6,221.4 L200.0,221.4 L200.4,221.3 L200.8,221.3 L201.1,221.2 L201.5,221.2 L201.9,221.2 L202.3,221.1 L202.6,221.1 L203.0,221.1 L203.4,221.0 L203.8,221.0 L204.1,220.9 L204.5,220.9 L204.9,220.9 L205.3,220.8 L205.6,220.8 L206.0,220.7 L206.4,220.6 L206.8,220.6 L207.1,220.5 L207.5,220.4 L207.9,220.3 L208.3,220.2 L208.6,220.1 L209.0,220.0 L209.4,219.9 L209.8,219.8 L210.1,219.6 L210.5,219.5 L210.9,219.3 L211.3,219.2 L211.6,219.1 L212.0,218.9 L212.4,218.8 L212.8,218.6 L213.1,218.5 L213.5,218.3 L213.9,218.1 L214.3,218.0 L214.6,217.8 L215.0,217.7 L215.4,217.5 L215.8,217.3 L216.2,217.1 L216.5,217.0 L216.9,216.8 L217.3,216.6 L217.7,216.4 L218.0,216.2 L218.4,216.0 L218.8,215.8 L219.2,215.5 L219.5,215.3 L219.9,215.1 L220.3,214.8 L220.7,214.6 L221.0,214.3 L221.4,214.0 L221.8,213.8 L222.2,213.5 L222.5,213.2 L222.9,212.9 L223.3,212.6 L223.5,212.4 L223.7,212.2 L223.9,212.1 L224.1,211.9 L224.2,211.7 L224.4,211.5 L224.6,211.4 L224.8,211.1 L225.0,210.9 L225.2,210.6 L225.4,210.3 L225.6,210.0 L225.8,209.7 L226.0,209.4 L226.2,209.1 L226.4,208.8 L226.6,208.4 L226.8,208.1 L226.9,207.7 L227.1,207.4 L227.3,207.0 L227.5,206.5 L227.7,206.1 L227.9,205.5 L228.1,205.0 L228.3,204.4 L228.5,203.7 L228.7,203.0 L228.9,202.3 L229.1,201.6 L229.3,200.9 L229.5,200.1 L229.6,199.4 L229.8,198.8 L230.0,198.1 L230.2,197.5 L230.4,197.0 L230.6,196.7 L230.8,196.5 L231.2,196.7 L231.4,197.0 L231.6,197.5 L231.8,198.1 L232.0,198.8 L232.2,199.4 L232.3,200.1 L232.5,200.9 L232.7,201.6 L232.9,202.3 L233.1,203.0 L233.3,203.7 L233.5,204.4 L233.7,205.0 L233.9,205.5 L234.1,206.1 L234.3,206.5 L234.5,207.0 L234.7,207.4 L234.9,207.7 L235.0,208.1 L235.2,208.4 L235.4,208.8 L235.6,209.1 L235.8,209.4 L236.0,209.7 L236.2,210.0 L236.4,210.3 L236.6,210.6 L236.8,210.9 L237.0,211.1 L237.2,211.4 L237.4,211.5 L237.6,211.7 L237.7,211.9 L237.9,212.1 L238.1,212.2 L238.3,212.4 L238.5,212.6 L238.9,212.9 L239.3,213.2 L239.6,213.5 L240.0,213.8 L240.4,214.0 L240.8,214.3 L241.1,214.6 L241.5,214.8 L241.9,215.1 L242.3,215.3 L242.6,215.5 L243.0,215.8 L243.4,216.0 L243.8,216.2 L244.1,216.4 L244.5,216.6 L244.9,216.8 L245.3,217.0 L245.6,217.1 L246.0,217.3 L246.4,217.5 L246.8,217.7 L247.2,217.8 L247.5,218.0 L247.9,218.1 L248.3,218.3 L248.7,218.5 L249.0,218.6 L249.4,218.8 L249.8,218.9 L250.2,219.1 L250.5,219.2 L250.9,219.3 L251.3,219.5 L251.7,219.6 L252.0,219.8 L252.4,219.9 L252.8,220.0 L253.2,220.1 L253.5,220.2 L253.9,220.3 L254.3,220.4 L254.7,220.5 L255.0,220.6 L255.4,220.6 L255.8,220.7 L256.2,220.8 L256.5,220.8 L256.9,220.9 L257.3,220.9 L257.7,220.9 L258.0,221.0 L258.4,221.0 L258.8,221.1 L259.2,221.1 L259.5,221.1 L259.9,221.2 L260.3,221.2 L260.7,221.2 L261.0,221.3 L261.4,221.3 L261.8,221.4 L262.2,221.4 L262.5,221.4 L262.9,221.5 L263.3,221.5 L263.7,221.6 L264.1,221.6 L264.4,221.7 L264.8,221.7 L265.2,221.8 L265.6,221.9 L265.9,221.9 L266.3,222.0 L266.7,222.0 L267.1,222.1 L267.4,222.2 L267.8,222.2 L268.2,222.3 L268.6,222.4 L268.9,222.5 L269.3,222.5 L269.7,222.6 L270.1,222.7 L270.4,222.8 L270.8,222.9 L271.2,223.0 L271.6,223.2 L271.9,223.3 L272.3,223.4 L272.7,223.5 L273.1,223.6 L273.4,223.7 L273.8,223.8 L274.2,223.9 L274.6,224.0 L274.9,224.1 L275.3,224.2 L275.7,224.2 L276.1,224.3 L276.4,224.4 L276.8,224.4 L277.2,224.5 L277.6,224.6 L277.9,224.6 L278.3,224.7 L278.7,224.7 L279.1,224.8 L279.4,224.8 L279.8,224.8 L280.2,224.8 L280.6,224.8 L281.0,224.8 L281.3,224.8 L281.7,224.8 L282.1,224.7 L282.5,224.7 L282.8,224.7 L283.2,224.7 L283.6,224.6 L284.0,224.6 L284.3,224.6 L284.7,224.5 L285.1,224.5 L285.5,224.5 L285.8,224.4 L286.2,224.4 L286.6,224.3 L287.0,224.2 L287.3,224.1 L287.7,224.0 L288.1,223.9 L288.5,223.8 L288.8,223.7 L289.2,223.5 L289.6,223.4 L290.0,223.3 L290.3,223.1 L290.7,223.0 L291.1,222.8 L291.5,222.7 L291.8,222.5 L292.2,222.4 L292.6,222.2 L293.0,222.0 L293.3,221.8 L293.7,221.6 L294.1,221.4 L294.5,221.2 L294.8,221.0 L295.2,220.8 L295.6,220.6 L296.0,220.4 L296.3,220.2 L296.7,220.0 L297.1,219.7 L297.5,219.5 L297.9,219.3 L298.2,219.0 L298.6,218.8 L299.0,218.5 L299.4,218.3 L299.7,218.0 L300.1,217.7 L300.5,217.5 L300.9,217.2 L301.2,216.9 L301.6,216.6 L302.0,216.3 L302.4,216.0 L302.7,215.7 L303.1,215.4 L303.5,215.1 L303.9,214.8 L304.2,214.5 L304.6,214.1 L305.0,213.8 L305.4,213.5 L305.7,213.1 L306.1,212.8 L306.5,212.4 L306.9,212.1 L307.2,211.7 L307.6,211.3 L308.0,210.9 L308.4,210.5 L308.7,210.1 L309.1,209.7 L309.5,209.3 L309.9,208.8 L310.2,208.4 L310.6,207.9 L311.0,207.4 L311.4,206.9 L311.7,206.3 L312.1,205.6 L312.5,205.0 L312.9,204.3 L313.2,203.7 L313.6,203.2 L314.0,202.6 L314.4,202.0 L314.8,201.4 L315.1,200.9 L315.5,200.3 L315.9,199.7 L316.3,199.1 L316.6,198.4 L317.0,197.8 L317.4,197.1 L317.8,196.4 L318.1,195.8 L318.5,195.1 L318.9,194.5 L319.3,193.9 L319.6,193.4 L320.0,192.8 L320.4,192.3 L320.8,191.8 L321.1,191.3 L321.5,190.8 L321.9,190.3 L322.3,189.8 L322.6,189.3 L323.0,188.8 L323.4,188.4 L323.8,187.9 L324.1,187.5 L324.5,187.2 L324.9,186.8 L325.3,186.5 L325.6,186.2 L326.0,185.8 L326.4,185.6 L326.8,185.3 L327.1,185.1 L327.5,185.0 L327.9,184.9 L328.3,184.8 L328.6,184.7 L329.0,184.7 L329.4,184.6 L329.8,184.6 L330.1,184.6 L330.5,184.7 L330.9,184.7 L331.3,184.9 L331.7,185.0 L332.0,185.2 L332.4,185.3 L332.8,185.6 L333.2,185.9 L333.5,186.2 L333.9,186.6 L334.3,186.9 L334.7,187.4 L335.0,187.8 L335.4,188.3 L335.8,188.9 L336.2,189.5 L336.5,190.2 L336.9,190.9 L337.3,191.5 L337.7,192.2 L338.0,193.0 L338.4,193.7 L338.8,194.5 L339.2,195.3 L339.5,196.2 L339.9,197.0 L340.3,197.9 L340.7,198.8 L341.0,199.7 L341.4,200.5 L341.8,201.4 L342.2,202.2 L342.5,203.0 L342.9,203.8 L343.3,204.5 L343.7,205.3 L344.0,206.0 L344.4,206.8 L344.8,207.6 L345.2,208.4 L345.5,209.3 L345.9,210.1 L346.3,210.9 L346.7,211.7 L347.0,212.5 L347.4,213.3 L347.8,214.1 L348.2,214.9 L348.6,215.7 L348.9,216.5 L349.3,217.3 L349.7,218.1 L350.1,218.9 L350.4,219.7 L350.8,220.4 L351.2,221.1 L351.6,221.9 L351.9,222.6 L352.3,223.2 L352.7,223.9 L353.1,224.5 L353.4,225.2 L353.8,225.8 L354.2,226.4 L354.6,227.1 L354.9,227.7 L355.3,228.3 L355.7,228.9 L356.1,229.5 L356.4,230.0 L356.8,230.6 L357.2,231.1 L357.6,231.6 L357.9,232.1 L358.3,232.6 L358.7,233.1 L359.1,233.5 L359.4,233.9 L359.8,234.3 L360.2,234.7 L360.6,235.1 L360.9,235.4 L361.3,235.8 L361.7,236.2 L362.1,236.5 L362.4,236.9 L362.8,237.2 L363.2,237.5 L363.6,237.9 L363.9,238.2 L364.3,238.5 L364.7,238.8 L365.1,239.1 L365.5,239.4 L365.8,239.7 L366.2,240.0 L366.6,240.3 L367.0,240.5 L367.3,240.8 L367.7,241.1 L368.1,241.3 L368.5,241.5 L368.8,241.8 L369.2,242.0 L369.6,242.2 L370.0,242.4 L370.3,242.6 L370.7,242.8 L371.1,243.0 L371.5,243.2 L371.8,243.4 L372.2,243.5 L372.6,243.7 L373.0,243.9 L373.3,244.0 L373.7,244.2 L374.1,244.3 L374.5,244.5 L374.8,244.6 L375.2,244.8 L375.6,244.9 L376.0,245.0 L376.3,245.2 L376.7,245.3 L377.1,245.4 L377.5,245.6 L377.8,245.7 L378.2,245.8 L378.6,245.9 L379.0,246.0 L379.3,246.1 L379.7,246.2 L380.1,246.3 L380.5,246.4 L380.8,246.5 L381.2,246.6 L381.6,246.7 L382.0,246.8 L382.4,246.9 L382.7,247.0 L383.1,247.1 L383.5,247.1 L383.9,247.2 L384.2,247.3 L384.6,247.4 L385.0,247.4 L385.4,247.5 L385.7,247.6 L386.1,247.6 L386.5,247.7 L386.9,247.8 L387.2,247.8 L387.6,247.9 L388.0,247.9 L388.4,248.0 L388.7,248.1 L389.1,248.1 L389.5,248.2 L389.9,248.2 L390.2,248.3 L390.6,248.3 L391.0,248.4 L391.4,248.4 L391.7,248.5 L392.1,248.5 L392.5,248.6 L392.9,248.6 L393.2,248.6 L393.6,248.7 L394.0,248.7 L394.4,248.7 L394.7,248.7 L395.1,248.8 L395.5,248.8 L395.9,248.8" stroke="#ffa500" stroke-dasharray="5.6,2.4,1.4,2.2,1.4,2.8"/>
</g>
<path d="M78.64,250.15v-1.9M78.64,15.15v1.9M91.34,250.15v-1.9M91.34,15.15v1.9M104.03,250.15v-3.8M104.03,15.15v3.8M116.73,250.15v-1.9M116.73,15.15v1.9M129.42,250.15v-1.9M129.42,15.15v1.9M142.12,250.15v-1.9M142.12,15.15v1.9M154.81,250.15v-1.9M154.81,15.15v1.9M167.50,250.15v-3.8M167.50,15.15v3.8M180.20,250.15v-1.9M180.20,15.15v1.9M192.89,250.15v-1.9M192.89,15.15v1.9M205.59,250.15v-1.9M205.59,15.15v1.9M218.28,250.15v-1.9M218.28,15.15v1.9M230.97,250.15v-3.8M230.97,15.15v3.8M243.67,250.15v-1.9M243.67,15.15v1.9M256.36,250.15v-1.9M256.36,15.15v1.9M269.06,250.15v-1.9M269.06,15.15v1.9M281.75,250.15v-1.9M281.75,15.15v1.9M294.45,250.15v-3.8M294.45,15.15v3.8M307.14,250.15v-1.9M307.14,15.15v1.9M319.83,250.15v-1.9M319.83,15.15v1.9M332.53,250.15v-1.9M332.53,15.15v1.9M345.22,250.15v-1.9M345.22,15.15v1.9M357.92,250.15v-3.8M357.92,15.15v3.8M370.61,250.15v-1.9M370.61,15.15v1.9M383.31,250.15v-1.9M383.31,15.15v1.9M65.95,242.32h1.9M396.0,242.32h-1.9M65.95,234.48h1.9M396.0,234.48h-1.9M65.95,226.65h1.9M396.0,226.65h-1.9M65.95,218.82h1.9M396.0,218.82h-1.9M65.95,210.98h3.8M396.0,210.98h-3.8M65.95,203.15h1.9M396.0,203.15h-1.9M65.95,195.32h1.9M396.0,195.32h-1.9M65.95,187.48h1.9M396.0,187.48h-1.9M65.95,179.65h1.9M396.0,179.65h-1.9M65.95,171.82h3.8M396.0,171.82h-3.8M65.95,163.98h1.9M396.0,163.98h-1.9M65.95,156.15h1.9M396.0,156.15h-1.9M65.95,148.32h1.9M396.0,148.32h-1.9M65.95,140.48h1.9M396.0,140.48h-1.9M65.95,132.65h3.8M396.0,132.65h-3.8M65.95,124.82h1.9M396.0,124.82h-1.9M65.95,116.98h1.9M396.0,116.98h-1.9M65.95,109.15h1.9M396.0,109.15h-1.9M65.95,101.32h1.9M396.0,101.32h-1.9M65.95,93.48h3.8M396.0,93.48h-3.8M65.95,85.65h1.9M396.0,85.65h-1.9M65.95,77.82h1.9M396.0,77.82h-1.9M65.95,69.98h1.9M396.0,69.98h-1.9M65.95,62.15h1.9M396.0,62.15h-1.9M65.95,54.32h3.8M396.0,54.32h-3.8M65.95,46.48h1.9M396.0,46.48h-1.9M65.95,38.65h1.9M396.0,38.65h-1.9M65.95,30.82h1.9M396.0,30.82h-1.9M65.95,22.98h1.9M396.0,22.98h-1.9" stroke="#000" stroke-width="0.8" fill="none"/>
<rect x="65.95" y="15.15" width="330.05" height="235.00" fill="none" stroke="#000" stroke-width="0.9"/>
<rect x="189.4" y="44.55" width="102.70000000000002" height="118.55" fill="#fff" stroke="none"/>
<clipPath id="ci"><rect x="189.4" y="44.55" width="102.70000000000002" height="118.55"/></clipPath>
<g fill="none" stroke-width="2" stroke-linejoin="round" clip-path="url(#ci)">
<path d="M189.2,155.8 L190.1,155.7 L190.9,155.6 L191.8,155.5 L192.7,155.4 L193.6,155.2 L194.4,155.1 L195.3,154.9 L196.2,154.8 L197.1,154.6 L197.9,154.4 L198.8,154.3 L199.7,154.1 L200.6,153.9 L201.4,153.7 L202.3,153.5 L203.2,153.3 L204.0,153.1 L204.9,152.9 L205.8,152.7 L206.7,152.5 L207.5,152.3 L208.4,152.1 L209.3,151.9 L210.2,151.7 L211.0,151.4 L211.9,151.2 L212.8,150.9 L213.7,150.7 L214.5,150.4 L215.4,150.1 L216.3,149.7 L217.2,149.4 L218.0,149.0 L218.9,148.6 L219.8,148.2 L220.7,147.8 L221.5,147.3 L222.4,146.9 L223.3,146.5 L224.1,146.0 L225.0,145.6 L225.9,145.2 L226.8,144.8 L227.6,144.3 L228.5,143.7 L229.4,143.0 L230.3,142.0 L231.1,140.4 L232.0,138.3 L232.9,136.0 L233.8,133.7 L234.6,131.6 L235.5,129.5 L236.4,127.4 L237.3,125.5 L238.1,123.9 L239.0,122.6 L239.9,121.5 L240.8,120.6 L241.6,121.5 L242.5,122.6 L243.4,123.9 L244.2,125.5 L245.1,127.4 L246.0,129.5 L246.9,131.6 L247.7,133.7 L248.6,136.0 L249.5,138.3 L250.4,140.4 L251.2,142.0 L252.1,143.0 L253.0,143.7 L253.9,144.3 L254.7,144.8 L255.6,145.2 L256.5,145.6 L257.4,146.0 L258.2,146.5 L259.1,146.9 L260.0,147.3 L260.8,147.8 L261.7,148.2 L262.6,148.6 L263.5,149.0 L264.3,149.4 L265.2,149.7 L266.1,150.1 L267.0,150.4 L267.8,150.7 L268.7,150.9 L269.6,151.2 L270.5,151.4 L271.3,151.7 L272.2,151.9 L273.1,152.1 L274.0,152.3 L274.8,152.5 L275.7,152.7 L276.6,152.9 L277.5,153.1 L278.3,153.3 L279.2,153.5 L280.1,153.7 L280.9,153.9 L281.8,154.1 L282.7,154.3 L283.6,154.4 L284.4,154.6 L285.3,154.8 L286.2,154.9 L287.1,155.1 L287.9,155.2 L288.8,155.4 L289.7,155.5 L290.6,155.6 L291.4,155.7 L292.3,155.8" stroke="#ff0000"/>
<path d="M189.2,140.9 L190.1,140.8 L190.9,140.7 L191.8,140.5 L192.7,140.4 L193.6,140.2 L194.4,140.1 L195.3,139.9 L196.2,139.7 L197.1,139.5 L197.9,139.3 L198.8,139.1 L199.7,138.8 L200.6,138.5 L201.4,138.2 L202.3,137.9 L203.2,137.6 L204.0,137.3 L204.9,137.0 L205.8,136.6 L206.7,136.3 L207.5,135.9 L208.4,135.6 L209.3,135.2 L210.2,134.8 L211.0,134.4 L211.9,133.9 L212.8,133.4 L213.7,132.9 L214.5,132.4 L215.4,131.8 L216.3,131.2 L217.2,130.5 L218.0,129.8 L218.9,129.1 L219.8,128.3 L220.7,127.5 L221.5,126.7 L222.4,125.8 L223.3,124.9 L224.1,124.0 L225.0,123.1 L225.9,122.2 L226.8,121.2 L227.6,120.1 L228.5,119.0 L229.4,117.7 L230.3,116.3 L231.1,114.6 L232.0,112.5 L232.9,109.9 L233.8,107.2 L234.6,104.4 L235.5,101.3 L236.4,98.2 L237.3,95.3 L238.1,92.5 L239.0,90.3 L239.9,88.7 L240.8,87.5 L241.6,88.7 L242.5,90.3 L243.4,92.5 L244.2,95.3 L245.1,98.2 L246.0,101.3 L246.9,104.4 L247.7,107.2 L248.6,109.9 L249.5,112.5 L250.4,114.6 L251.2,116.3 L252.1,117.7 L253.0,119.0 L253.9,120.1 L254.7,121.2 L255.6,122.2 L256.5,123.1 L257.4,124.0 L258.2,124.9 L259.1,125.8 L260.0,126.7 L260.8,127.5 L261.7,128.3 L262.6,129.1 L263.5,129.8 L264.3,130.5 L265.2,131.2 L266.1,131.8 L267.0,132.4 L267.8,132.9 L268.7,133.4 L269.6,133.9 L270.5,134.4 L271.3,134.8 L272.2,135.2 L273.1,135.6 L274.0,135.9 L274.8,136.3 L275.7,136.6 L276.6,137.0 L277.5,137.3 L278.3,137.6 L279.2,137.9 L280.1,138.2 L280.9,138.5 L281.8,138.8 L282.7,139.1 L283.6,139.3 L284.4,139.5 L285.3,139.7 L286.2,139.9 L287.1,140.1 L287.9,140.2 L288.8,140.4 L289.7,140.5 L290.6,140.7 L291.4,140.8 L292.3,140.9" stroke="#0000ff" stroke-dasharray="6.1,2.6"/>
<path d="M189.2,131.6 L190.1,131.5 L190.9,131.4 L191.8,131.2 L192.7,131.1 L193.6,130.9 L194.4,130.7 L195.3,130.5 L196.2,130.3 L197.1,130.1 L197.9,129.8 L198.8,129.6 L199.7,129.3 L200.6,129.1 L201.4,128.8 L202.3,128.5 L203.2,128.3 L204.0,128.0 L204.9,127.7 L205.8,127.4 L206.7,127.1 L207.5,126.7 L208.4,126.3 L209.3,125.9 L210.2,125.5 L211.0,125.1 L211.9,124.6 L212.8,124.1 L213.7,123.6 L214.5,123.1 L215.4,122.6 L216.3,122.0 L217.2,121.3 L218.0,120.7 L218.9,119.9 L219.8,119.2 L220.7,118.4 L221.5,117.5 L222.4,116.6 L223.3,115.6 L224.1,114.4 L225.0,113.1 L225.9,111.7 L226.8,110.3 L227.6,108.8 L228.5,107.3 L229.4,105.8 L230.3,104.1 L231.1,102.4 L232.0,100.5 L232.9,98.4 L233.8,96.1 L234.6,93.9 L235.5,91.5 L236.4,88.9 L237.3,86.7 L238.1,84.9 L239.0,83.4 L239.9,82.2 L240.8,81.3 L241.6,82.2 L242.5,83.4 L243.4,84.9 L244.2,86.7 L245.1,88.9 L246.0,91.5 L246.9,93.9 L247.7,96.1 L248.6,98.4 L249.5,100.5 L250.4,102.4 L251.2,104.1 L252.1,105.8 L253.0,107.3 L253.9,108.8 L254.7,110.3 L255.6,111.7 L256.5,113.1 L257.4,114.4 L258.2,115.6 L259.1,116.6 L260.0,117.5 L260.8,118.4 L261.7,119.2 L262.6,119.9 L263.5,120.7 L264.3,121.3 L265.2,122.0 L266.1,122.6 L267.0,123.1 L267.8,123.6 L268.7,124.1 L269.6,124.6 L270.5,125.1 L271.3,125.5 L272.2,125.9 L273.1,126.3 L274.0,126.7 L274.8,127.1 L275.7,127.4 L276.6,127.7 L277.5,128.0 L278.3,128.3 L279.2,128.5 L280.1,128.8 L280.9,129.1 L281.8,129.3 L282.7,129.6 L283.6,129.8 L284.4,130.1 L285.3,130.3 L286.2,130.5 L287.1,130.7 L287.9,130.9 L288.8,131.1 L289.7,131.2 L290.6,131.4 L291.4,131.5 L292.3,131.6" stroke="#006400" stroke-dasharray="5,2.4,1.5,2.6"/>
<path d="M189.2,125.1 L190.1,125.0 L190.9,124.7 L191.8,124.5 L192.7,124.3 L193.6,124.0 L194.4,123.7 L195.3,123.4 L196.2,123.2 L197.1,122.9 L197.9,122.6 L198.8,122.3 L199.7,122.1 L200.6,121.8 L201.4,121.5 L202.3,121.2 L203.2,120.9 L204.0,120.6 L204.9,120.3 L205.8,120.0 L206.7,119.6 L207.5,119.3 L208.4,119.0 L209.3,118.6 L210.2,118.3 L211.0,117.9 L211.9,117.5 L212.8,117.1 L213.7,116.7 L214.5,116.3 L215.4,115.8 L216.3,115.3 L217.2,114.8 L218.0,114.2 L218.9,113.7 L219.8,113.1 L220.7,112.5 L221.5,111.9 L222.4,111.2 L223.3,110.6 L224.1,109.9 L225.0,109.2 L225.9,108.5 L226.8,107.8 L227.6,107.1 L228.5,106.4 L229.4,105.8 L230.3,105.1 L231.1,104.4 L232.0,103.8 L232.9,103.2 L233.8,102.6 L234.6,102.0 L235.5,101.4 L236.4,100.9 L237.3,100.6 L238.1,100.4 L239.0,100.1 L239.9,100.0 L240.8,99.9 L241.6,100.0 L242.5,100.1 L243.4,100.4 L244.2,100.6 L245.1,100.9 L246.0,101.4 L246.9,102.0 L247.7,102.6 L248.6,103.2 L249.5,103.8 L250.4,104.4 L251.2,105.1 L252.1,105.8 L253.0,106.4 L253.9,107.1 L254.7,107.8 L255.6,108.5 L256.5,109.2 L257.4,109.9 L258.2,110.6 L259.1,111.2 L260.0,111.9 L260.8,112.5 L261.7,113.1 L262.6,113.7 L263.5,114.2 L264.3,114.8 L265.2,115.3 L266.1,115.8 L267.0,116.3 L267.8,116.7 L268.7,117.1 L269.6,117.5 L270.5,117.9 L271.3,118.3 L272.2,118.6 L273.1,119.0 L274.0,119.3 L274.8,119.6 L275.7,120.0 L276.6,120.3 L277.5,120.6 L278.3,120.9 L279.2,121.2 L280.1,121.5 L280.9,121.8 L281.8,122.1 L282.7,122.3 L283.6,122.6 L284.4,122.9 L285.3,123.2 L286.2,123.4 L287.1,123.7 L287.9,124.0 L288.8,124.3 L289.7,124.5 L290.6,124.7 L291.4,125.0 L292.3,125.1" stroke="#ffa500" stroke-dasharray="5.6,2.4,1.4,2.2,1.4,2.8"/>
</g>
<path d="M191.45,163.1v-1.8M191.45,44.55v1.8M197.62,163.1v-1.8M197.62,44.55v1.8M203.78,163.1v-1.8M203.78,44.55v1.8M209.94,163.1v-3.6M209.94,44.55v3.6M216.10,163.1v-1.8M216.10,44.55v1.8M222.26,163.1v-1.8M222.26,44.55v1.8M228.43,163.1v-1.8M228.43,44.55v1.8M234.59,163.1v-1.8M234.59,44.55v1.8M240.75,163.1v-3.6M240.75,44.55v3.6M246.91,163.1v-1.8M246.91,44.55v1.8M253.07,163.1v-1.8M253.07,44.55v1.8M259.24,163.1v-1.8M259.24,44.55v1.8M265.40,163.1v-1.8M265.40,44.55v1.8M271.56,163.1v-3.6M271.56,44.55v3.6M277.72,163.1v-1.8M277.72,44.55v1.8M283.88,163.1v-1.8M283.88,44.55v1.8M290.05,163.1v-1.8M290.05,44.55v1.8M189.4,149.93h1.8M292.1,149.93h-1.8M189.4,136.76h1.8M292.1,136.76h-1.8M189.4,123.58h3.6M292.1,123.58h-3.6M189.4,110.41h1.8M292.1,110.41h-1.8M189.4,97.24h1.8M292.1,97.24h-1.8M189.4,84.07h1.8M292.1,84.07h-1.8M189.4,70.89h1.8M292.1,70.89h-1.8M189.4,57.72h3.6M292.1,57.72h-3.6" stroke="#000" stroke-width="0.8" fill="none"/>
<rect x="189.4" y="44.55" width="102.70" height="118.55" fill="none" stroke="#000" stroke-width="0.9"/>
<text class="t" x="58.4" y="253.8" text-anchor="end">0</text>
<text class="t" x="58.4" y="214.7" text-anchor="end">0.5</text>
<text class="t" x="58.4" y="175.5" text-anchor="end">1</text>
<text class="t" x="58.4" y="136.3" text-anchor="end">1.5</text>
<text class="t" x="58.4" y="97.2" text-anchor="end">2</text>
<text class="t" x="58.4" y="58.0" text-anchor="end">2.5</text>
<text class="t" x="58.4" y="18.9" text-anchor="end">3</text>
<text class="t" x="103.5" y="266" text-anchor="middle">-1</text>
<text class="t" x="167.6" y="266" text-anchor="middle">-0.5</text>
<text class="t" x="232.8" y="266" text-anchor="middle">0</text>
<text class="t" x="296.5" y="266" text-anchor="middle">0.5</text>
<text class="t" x="360.5" y="266" text-anchor="middle">1</text>
<text class="t" x="210.4" y="179" text-anchor="middle">-0.03</text>
<text class="t" x="242" y="179" text-anchor="middle">0</text>
<text class="t" x="273" y="179" text-anchor="middle">0.03</text>
<text class="t" x="181.4" y="127.3" text-anchor="end">0.5</text>
<text class="t" x="181.4" y="61.4" text-anchor="end">1</text>
<text x="6.6" y="31.1" font-size="19.5">(</text><text x="12.6" y="31.1" font-size="16.8">c</text><text x="18.9" y="31.1" font-size="19.5">)</text>
<text class="l i" x="89" y="36.6">d</text><text transform="translate(100,36.9) scale(1.45,1)" font-size="14">=</text><text class="l" x="113.3" y="36.6">2</text>
<text class="b i" x="214.3" y="286">ω</text><path d="M226.4,289.4L232.6,273.2" stroke="#111" stroke-width="0.95" fill="none"/><text class="i" transform="translate(233.8,286) scale(1.13,1)" font-size="16.3">D</text>
<g transform="translate(31,161.6) rotate(-90)"><text class="b i" x="0" y="0">ρ</text><text x="9.6" y="-7.6" font-size="12" class="i">f</text><text x="8.3" y="4.3" font-size="11.5">+</text><text x="15.6" y="0" font-size="19.5">(</text><text class="b i" x="21.4" y="0">ω</text><text x="32" y="0" font-size="19.5">)</text><text class="i" transform="translate(46.4,0) scale(1.13,1)" font-size="16.3">D</text></g>
<text class="l" x="339.6" y="28.3" text-anchor="end">0.06</text>
<path d="M346.5,24.7H380.9" stroke="#ff0000" stroke-width="2" fill="none"/>
<text class="l" x="339.6" y="41.2" text-anchor="end">0.09</text>
<path d="M346.5,37.6H380.9" stroke="#0000ff" stroke-width="2" fill="none" stroke-dasharray="6.1,2.6"/>
<text class="l" x="339.6" y="53.9" text-anchor="end">0.12</text>
<path d="M346.5,50.3H380.9" stroke="#006400" stroke-width="2" fill="none" stroke-dasharray="5,2.4,1.5,2.6"/>
<text class="l" x="339.6" y="66.6" text-anchor="end">0.18</text>
<path d="M346.5,63.0H380.9" stroke="#ffa500" stroke-width="2" fill="none" stroke-dasharray="5.6,2.4,1.4,2.2,1.4,2.8"/>
<text transform="translate(267.6,28) scale(1.22,1)" font-size="16">Δ</text><path d="M278.7,31.6L284,15.4" stroke="#111" stroke-width="0.9" fill="none"/><text class="i" x="285.6" y="28" font-size="15.5">D</text><text transform="translate(301.1,28.6) scale(1.5,1)" font-size="14">=</text>
</svg></body></html>
